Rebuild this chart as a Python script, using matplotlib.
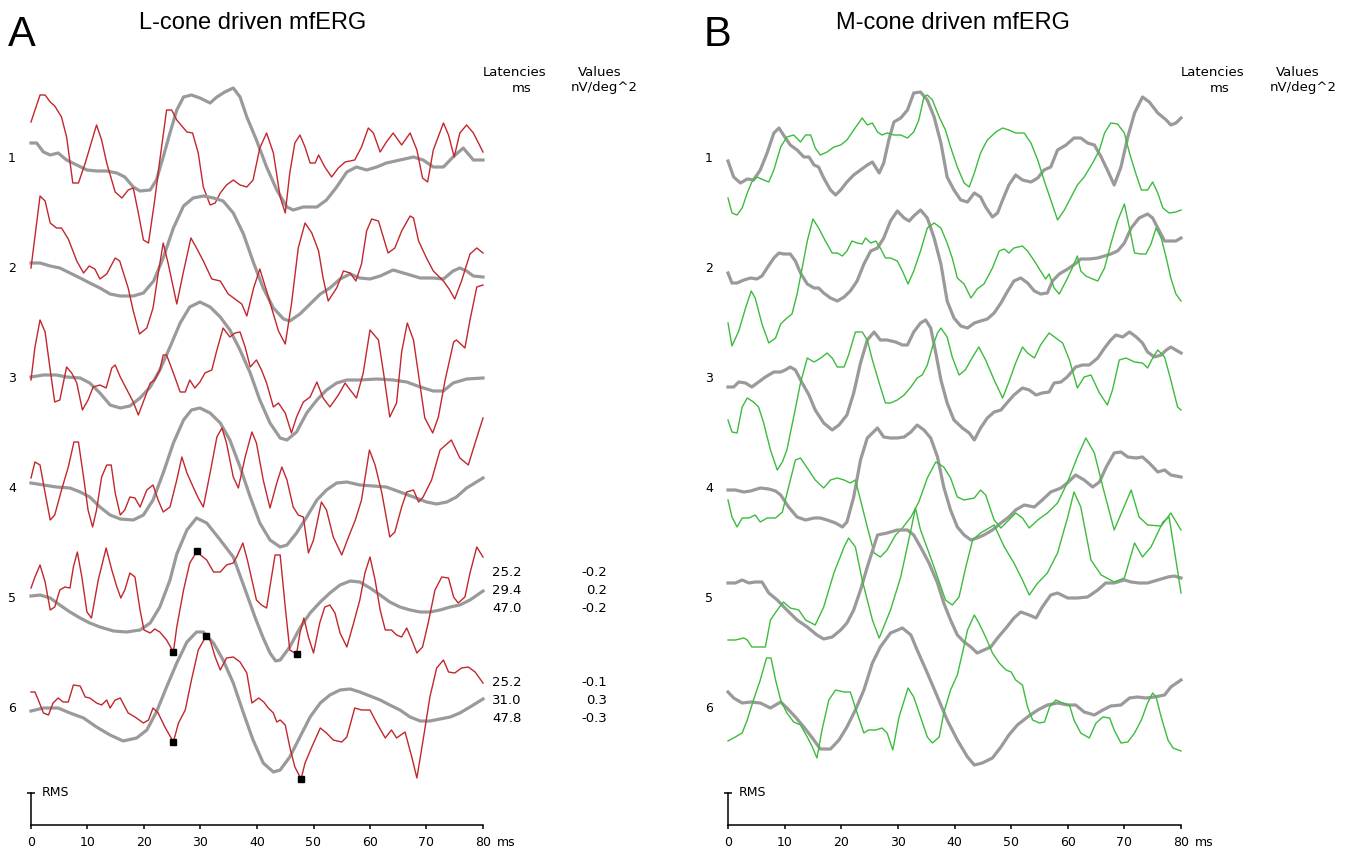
import numpy as np
import matplotlib.pyplot as plt

# mfERG traces: time in ms, amplitude in arbitrary units (one unit ~ one pixel of the original)
# ---- panel A: L-cone driven (red) with the smooth reference (gray)
a1_red_t = [0, 1.6, 2.5, 3.4, 4.2, 5.4, 6.3, 7.4, 8.4, 9.6, 11.6, 12.5, 13.4, 14.9, 16.1, 17.2, 18.1, 19.0, 19.9, 20.8,
            21.9, 22.8, 24.0, 24.9, 25.8, 26.7, 27.6, 28.6, 29.6, 30.5, 31.7, 32.6, 33.5, 34.6, 35.8, 37.0, 38.2, 39.3, 40.5, 41.7,
            42.9, 44.1, 45.0, 45.8, 46.7, 47.6, 48.5, 49.4, 50.3, 50.9, 52.0, 53.2, 54.4, 55.6, 57.3, 58.5, 59.7, 60.6, 61.8, 62.9,
            64.1, 65.6, 67.1, 68.3, 69.3, 70.2, 71.2, 73.0, 73.9, 74.9, 75.9, 77.1, 78.3, 80]
a1_red_v = [36, 63, 63, 56, 52, 41, 21, -25, -25, -5, 33, 18, -5, -34, -40, -32, -30, -55, -82, -85,
            -42, -2, 48, 48, 38, 32, 26, 25, 5, -29, -47, -45, -35, -27, -22, -27, -29, -22, 10, 25,
            5, -39, -55, -15, 15, 23, 11, -5, -5, 3, -9, -19, -10, -4, -2, 11, 30, 25, 6, 16,
            25, 13, 25, 8, -20, -24, 8, 35, 23, 1, 25, 33, 25, 6]
a1_gray_t = [0, 1.0, 2.2, 3.4, 4.8, 6.3, 8.1, 9.9, 11.6, 13.4, 15.2, 16.6, 18.1, 19.3, 21.1, 22.2, 23.4, 24.6, 25.8, 27.0,
             28.4, 29.9, 31.7, 32.9, 34.3, 35.8, 37.0, 38.2, 39.9, 41.7, 43.5, 45.3, 46.4, 48.2, 50.6, 52.3, 54.1, 55.9, 57.6, 59.4,
             61.2, 62.9, 65.3, 67.7, 69.4, 71.2, 73.0, 74.7, 76.5, 78.3, 80]
a1_gray_v = [15, 15, 6, 3, 5, -2, -7, -12, -13, -13, -15, -19, -29, -33, -32, -22, 1, 25, 48, 61,
             63, 60, 55, 61, 66, 70, 61, 41, 18, -9, -32, -49, -52, -49, -49, -42, -29, -14, -9, -12,
             -9, -5, -2, 1, -2, -9, -9, 1, 10, -2, -2]

a2_red_t = [0, 1.6, 2.5, 3.4, 4.5, 5.4, 6.6, 8.1, 9.3, 10.3, 11.3, 12.2, 13.4, 14.9, 15.7, 17.2, 18.1, 19.2, 20.5, 21.6,
            22.5, 23.4, 24.3, 25.8, 26.9, 28.3, 29.3, 30.5, 32.0, 33.5, 34.9, 36.1, 37.3, 38.2, 39.4, 40.5, 41.7, 42.9, 43.8, 45.0,
            46.1, 47.3, 48.5, 49.7, 50.9, 51.7, 52.6, 54.1, 55.3, 56.5, 57.5, 58.5, 59.4, 60.3, 61.5, 63.2, 64.4, 65.6, 67.1, 67.7,
            68.6, 70.0, 71.2, 73.0, 74.0, 75.0, 76.2, 77.7, 78.9, 80]
a2_red_v = [0, 72, 67, 45, 40, 40, 29, 7, -5, 2, -1, -11, -6, 10, 7, -20, -43, -66, -60, -40,
            -6, 25, 4, -36, -6, 30, 20, 7, -11, -13, -26, -31, -36, -48, -20, -1, -23, -46, -63, -76,
            -36, 20, 45, 35, 17, -10, -33, -20, -3, -5, -13, 4, 37, 49, 47, 15, 20, 37, 52, 50,
            27, 10, -3, -13, -21, -31, -13, 14, 20, 15]
a2_gray_t = [0, 1.6, 3.4, 5.1, 6.9, 8.7, 10.4, 12.2, 14.0, 15.8, 18.1, 19.9, 21.7, 23.4, 25.2, 27.0, 28.7, 30.5, 32.3, 34.0,
             35.8, 37.6, 39.4, 41.1, 42.9, 44.7, 45.8, 47.6, 49.4, 51.2, 52.9, 54.7, 56.5, 58.2, 60.0, 61.8, 64.1, 66.5, 68.9, 71.2,
             73.0, 74.7, 75.9, 77.1, 78.3, 80]
a2_gray_v = [5, 5, 2, 0, -5, -10, -15, -20, -26, -28, -28, -25, -13, 10, 40, 62, 70, 72, 70, 67,
             55, 34, 5, -20, -40, -51, -53, -46, -36, -26, -20, -11, -6, -10, -11, -8, -2, -6, -10, -10,
             -11, -3, 0, -3, -8, -9]

a3_red_t = [0, 0.7, 1.6, 2.5, 3.4, 4.2, 5.1, 6.3, 7.2, 8.1, 9.1, 10.1, 11.0, 12.2, 13.3, 14.3, 14.9, 15.8, 17.0, 18.1,
            19.0, 20.2, 21.1, 21.9, 22.8, 23.4, 24.0, 25.2, 26.4, 27.3, 28.1, 29.0, 29.9, 30.8, 32.0, 32.9, 34.0, 35.2, 36.1, 37.0,
            37.9, 38.8, 39.9, 40.8, 41.7, 42.9, 43.8, 45.0, 46.1, 47.0, 48.2, 49.4, 50.6, 51.7, 52.9, 54.4, 55.6, 56.5, 57.6, 58.8,
            60.0, 61.5, 62.4, 63.5, 64.7, 65.6, 66.6, 67.7, 68.8, 69.7, 71.1, 72.1, 73.3, 74.8, 75.3, 76.8, 77.7, 78.9, 80]
a3_red_v = [-2, 31, 58, 46, 8, -24, -22, 11, 5, -5, -32, -22, -9, -7, -10, 10, 13, 1, -12, -24,
            -37, -19, -5, -2, 8, 23, 23, 5, -14, -14, -2, -10, -4, 5, 8, 28, 50, 41, 45, 46,
            31, 11, 18, 8, -5, -29, -25, -35, -55, -39, -24, -19, -4, -20, -29, -17, -5, -12, -20, 5,
            48, 38, 5, -39, -25, 26, 55, 38, -5, -40, -55, -39, -2, 36, 38, 30, 58, 91, 93]
a3_gray_t = [0, 2.2, 4.5, 6.3, 8.7, 10.4, 12.2, 14.0, 15.8, 17.5, 19.3, 21.1, 22.8, 24.6, 26.4, 28.1, 29.9, 31.7, 33.5, 35.2,
             37.0, 38.8, 40.5, 42.3, 44.1, 45.3, 47.0, 48.8, 50.6, 52.3, 54.1, 55.9, 58.2, 61.2, 64.1, 66.5, 68.9, 71.2, 73.0, 74.7,
             77.1, 80]
a3_gray_v = [1, 3, 3, 1, 0, -5, -15, -27, -30, -28, -20, -9, 8, 31, 55, 71, 76, 71, 61, 48,
             28, 5, -22, -45, -60, -62, -54, -35, -22, -12, -5, -2, -2, -1, -2, -4, -9, -13, -13, -5,
             -1, 0]

a4_red_t = [0, 0.7, 1.6, 2.5, 3.4, 4.2, 5.4, 6.6, 7.6, 8.4, 9.3, 10.1, 10.9, 11.6, 12.5, 13.4, 14.2, 14.9, 15.8, 16.6,
            17.5, 18.4, 19.3, 20.5, 21.6, 22.5, 23.4, 24.6, 25.8, 26.7, 27.6, 28.7, 29.6, 30.5, 31.7, 32.9, 33.8, 34.6, 35.8, 36.7,
            37.9, 39.1, 39.9, 41.1, 42.3, 43.5, 44.4, 45.3, 46.4, 47.3, 48.2, 49.1, 50.0, 51.4, 52.3, 53.5, 55.0, 56.2, 57.4, 58.5,
            59.9, 60.9, 62.1, 63.5, 64.4, 65.6, 66.5, 67.7, 68.6, 69.4, 70.9, 72.4, 74.4, 75.9, 77.4, 78.6, 80]
a4_red_v = [10, 26, 23, -5, -32, -27, -2, 21, 46, 46, 11, -22, -39, -22, 11, 23, 23, -5, -27, -22,
            -9, -10, -19, -2, 3, -12, -24, -19, 8, 31, 15, 1, -10, -19, 15, 51, 60, 45, 11, 0,
            31, 56, 45, 8, -20, 5, 21, 8, -19, -27, -29, -65, -52, -14, -22, -49, -67, -49, -32, -12,
            38, 23, -5, -49, -44, -19, -4, -2, -14, -9, 8, 38, 48, 30, 23, 45, 70]
a4_gray_t = [0, 2.2, 4.5, 6.9, 8.7, 10.4, 12.2, 14.0, 15.8, 18.1, 19.9, 21.6, 23.4, 25.2, 27.0, 28.4, 29.9, 31.7, 33.5, 35.2,
             37.0, 38.8, 40.5, 42.3, 44.1, 45.3, 47.0, 48.8, 50.6, 52.3, 54.1, 55.9, 58.2, 60.6, 62.9, 65.3, 67.7, 70.0, 71.8, 73.6,
             75.3, 77.1, 80]
a4_gray_v = [5, 3, 1, 0, -4, -9, -19, -27, -31, -32, -27, -12, 15, 45, 68, 78, 80, 75, 65, 48,
             21, -9, -35, -52, -59, -57, -45, -29, -12, -2, 5, 6, 3, 2, 1, -4, -9, -14, -16, -14,
             -9, 0, 10]

a5_red_t = [0, 0.7, 1.6, 2.5, 3.4, 4.2, 5.1, 6.0, 6.9, 7.5, 8.2, 9.0, 9.9, 10.7, 11.9, 13.3, 14.3, 15.2, 15.9, 16.6,
            17.5, 18.4, 19.3, 20.0, 21.1, 21.9, 22.8, 24.0, 25.2, 25.8, 27.0, 28.1, 29.4, 30.0, 31.1, 32.3, 33.5, 34.6, 35.8, 36.4,
            37.5, 38.3, 39.1, 39.9, 40.8, 41.7, 42.4, 43.2, 44.1, 45.0, 45.8, 47.0, 47.6, 48.3, 49.1, 50.0, 51.1, 52.0, 52.9, 53.8,
            54.7, 55.9, 57.1, 58.2, 59.1, 60.0, 60.9, 61.8, 62.7, 63.8, 64.7, 65.6, 66.5, 67.4, 68.3, 69.3, 70.3, 71.5, 72.7, 73.9,
            74.8, 75.6, 76.8, 77.7, 78.9, 80]
a5_red_v = [10, 21, 33, 16, -12, -9, 8, 11, 10, 31, 46, 21, -14, -20, 18, 50, 28, 11, 0, 8,
            25, 21, -12, -32, -35, -31, -34, -42, -54, -29, 8, 35, 47, 43, 38, 26, 26, 33, 35, 41,
            55, 38, 18, -2, -7, -10, 15, 43, 43, -9, -52, -56, -35, -20, -39, -55, -25, -9, -7, -15,
            -35, -49, -25, -2, 25, 41, 18, -12, -32, -32, -37, -39, -30, -42, -55, -49, -25, 8, 21, 20,
            1, -5, 1, 25, 51, 41]
a5_gray_t = [0, 1.6, 3.4, 5.1, 6.9, 8.7, 10.4, 12.2, 14.6, 16.9, 19.3, 21.1, 22.8, 24.6, 25.8, 27.6, 29.3, 31.1, 33.5, 35.8,
             37.8, 39.7, 41.1, 42.3, 43.3, 44.1, 45.8, 47.6, 49.4, 51.2, 52.9, 54.7, 56.5, 58.2, 60.0, 61.8, 63.5, 65.3, 67.1, 68.9,
             70.6, 72.4, 74.2, 75.9, 77.7, 80]
a5_gray_v = [2, 3, 0, -7, -14, -20, -25, -29, -33, -34, -32, -25, -9, 18, 44, 68, 80, 75, 58, 41,
             10, -20, -40, -55, -63, -62, -49, -30, -15, -4, 5, 13, 17, 16, 10, 3, -4, -9, -12, -14,
             -14, -12, -9, -7, -2, 7]

a6_red_t = [0, 0.7, 1.3, 2.2, 3.1, 3.9, 4.8, 5.7, 6.6, 7.5, 8.7, 9.6, 10.4, 11.6, 12.5, 13.4, 14.0, 14.9, 15.8, 17.2,
            18.4, 19.9, 20.8, 21.6, 22.5, 23.7, 25.2, 26.1, 27.3, 28.4, 29.6, 31.0, 31.7, 32.6, 33.5, 34.6, 35.8, 37.0, 38.2, 39.1,
            40.3, 41.2, 42.0, 42.9, 43.5, 44.1, 45.0, 45.8, 46.7, 47.8, 48.5, 49.7, 51.2, 52.3, 53.5, 55.0, 55.9, 57.3, 58.5, 60.0,
            61.2, 62.7, 63.8, 64.7, 66.2, 67.4, 68.3, 69.4, 70.6, 71.8, 73.0, 73.9, 75.0, 76.2, 77.4, 78.6, 80]
a6_red_v = [16, 16, 8, -5, -7, 5, 10, 6, 6, 23, 22, 11, 10, 5, 3, 8, 0, 8, 10, -5,
            -9, -15, -12, 0, -5, -19, -34, -15, -2, 28, 58, 72, 68, 51, 38, 50, 51, 46, 35, 5,
            10, 6, 0, -5, -14, -12, -17, -39, -59, -71, -55, -39, -20, -25, -32, -34, -29, 0, -2, -2,
            -15, -30, -22, -30, -24, -49, -70, -32, 11, 40, 48, 36, 35, 40, 41, 36, 25]
a6_gray_t = [0, 2.2, 4.8, 6.9, 9.3, 11.6, 14.0, 16.3, 18.7, 20.5, 22.2, 24.0, 25.8, 27.6, 29.3, 30.5, 32.3, 34.0, 35.8, 37.6,
             39.3, 41.1, 42.9, 44.1, 45.8, 47.6, 49.4, 51.2, 52.9, 54.7, 56.5, 58.2, 60.0, 61.8, 63.5, 65.3, 67.1, 68.9, 70.6, 72.4,
             74.2, 75.9, 77.7, 80]
a6_gray_v = [-3, 0, 0, -5, -10, -19, -27, -33, -30, -22, -4, 21, 45, 66, 76, 76, 65, 48, 25, -5,
             -32, -55, -64, -62, -49, -29, -9, 5, 13, 18, 19, 16, 12, 8, 3, -2, -9, -13, -13, -11,
             -9, -5, 1, 9]

# peak latencies (ms) and amplitudes (nV/deg^2) for rings 5 and 6 of panel A
a5_lat = [25.2, 29.4, 47.0]
a5_val = [-0.2, 0.2, -0.2]
a6_lat = [25.2, 31.0, 47.8]
a6_val = [-0.1, 0.3, -0.3]

# ---- panel B: M-cone driven (green) with the smooth reference (gray)
b1_green_t = [0, 0.7, 1.6, 2.5, 3.4, 4.2, 5.1, 6.3, 7.2, 8.1, 9.3, 10.4, 11.6, 12.8, 13.7, 14.6, 15.4, 16.3, 17.5, 18.7,
              19.9, 21.0, 22.2, 23.7, 24.6, 25.5, 26.4, 27.2, 28.1, 29.3, 30.5, 31.7, 32.8, 33.7, 34.6, 35.2, 36.1, 37.3, 38.4, 39.3,
              40.5, 41.7, 42.6, 43.5, 44.6, 45.8, 47.3, 48.5, 49.6, 50.8, 52.3, 53.5, 54.7, 55.8, 57.0, 58.2, 59.4, 60.6, 61.7, 62.9,
              64.4, 65.6, 66.5, 67.6, 68.8, 70.0, 70.9, 72.1, 73.0, 74.1, 75.0, 75.9, 76.8, 77.9, 79.1, 80]
b1_green_v = [-40, -55, -57, -50, -35, -24, -19, -22, -24, -12, 11, 21, 23, 16, 23, 23, 10, 3, 6, 11,
              13, 18, 28, 40, 33, 35, 26, 23, 25, 23, 23, 20, 26, 38, 61, 63, 58, 41, 28, 11,
              -9, -25, -29, -15, 5, 18, 26, 30, 28, 25, 25, 15, -2, -22, -42, -62, -52, -39, -27, -19,
              -5, 8, 25, 35, 34, 25, 5, -17, -32, -32, -24, -35, -50, -55, -54, -52]
b1_gray_t = [0, 1.0, 2.2, 3.4, 4.5, 5.7, 6.9, 8.1, 9.0, 9.8, 11.0, 12.2, 13.4, 14.3, 15.2, 16.0, 16.9, 18.1, 19.0, 19.9,
             21.0, 22.2, 23.4, 24.6, 25.5, 26.7, 27.5, 28.4, 29.3, 30.5, 31.7, 32.8, 34.0, 35.2, 36.4, 37.6, 38.7, 39.9, 41.1, 42.3,
             43.5, 44.6, 45.5, 46.7, 47.6, 48.5, 49.6, 50.8, 52.0, 53.5, 54.7, 55.8, 57.0, 58.2, 59.7, 61.1, 62.3, 63.5, 64.7, 65.9,
             67.0, 68.2, 69.4, 70.6, 71.8, 73.2, 74.4, 75.9, 77.4, 78.2, 79.1, 80]
b1_gray_v = [-3, -19, -25, -21, -22, -12, 5, 25, 30, 23, 13, 8, 1, 1, -7, -9, -20, -32, -37, -32,
             -24, -17, -12, -7, -4, -15, -5, 18, 36, 40, 48, 65, 66, 58, 41, 15, -19, -32, -42, -44,
             -35, -39, -49, -59, -55, -42, -27, -17, -22, -24, -20, -12, -9, 8, 13, 20, 20, 15, 13, 1,
             -12, -27, -9, 21, 45, 61, 56, 45, 38, 33, 35, 40]

b2_green_t = [0, 0.7, 1.9, 3.1, 4.1, 4.8, 6.0, 7.2, 8.4, 9.3, 10.4, 11.3, 12.2, 13.1, 14.0, 15.0, 16.0, 17.2, 18.4, 19.3,
              20.2, 21.0, 21.9, 22.8, 23.7, 24.3, 25.2, 26.1, 27.0, 27.8, 28.7, 29.9, 30.8, 31.8, 32.8, 34.0, 35.2, 36.4, 37.6, 38.7,
              39.6, 40.5, 41.7, 42.9, 44.0, 45.2, 46.7, 47.9, 48.8, 49.6, 50.5, 52.0, 52.9, 54.1, 55.2, 56.1, 56.7, 57.6, 58.5, 59.7,
              60.8, 61.7, 62.3, 63.2, 64.4, 65.3, 66.5, 67.6, 68.8, 70.0, 70.9, 71.8, 72.9, 73.8, 74.7, 75.6, 76.5, 77.4, 78.2, 79.1,
              80]
b2_green_v = [-55, -78, -63, -40, -23, -30, -56, -75, -70, -56, -50, -46, -26, 0, 27, 49, 40, 27, 15, 15,
              12, 17, 27, 25, 24, 30, 25, 27, 19, 10, 10, 7, -3, -16, -3, 17, 40, 45, 40, 25,
              10, -10, -16, -30, -21, -16, 0, 17, 19, 15, 20, 22, 17, 7, -3, -11, -6, -20, -26, -13,
              0, 12, -3, -8, -11, -13, 0, 24, 47, 64, 40, 15, 14, 14, 24, 40, 30, 10, -10, -26,
              -33]
b2_gray_t = [0, 0.7, 1.6, 2.8, 4.0, 5.1, 6.0, 6.9, 8.1, 9.0, 9.8, 11.0, 11.9, 12.8, 14.0, 15.2, 16.0, 16.9, 18.1, 19.3,
             20.5, 21.6, 22.8, 24.0, 25.2, 26.4, 27.5, 28.7, 29.9, 31.1, 32.0, 32.8, 34.0, 35.2, 36.4, 37.6, 38.7, 39.9, 41.1, 42.3,
             43.5, 44.6, 45.8, 47.0, 48.2, 49.4, 50.5, 51.7, 52.9, 54.1, 55.2, 56.4, 57.3, 58.5, 60.0, 61.5, 62.3, 63.8, 65.3, 66.5,
             67.6, 68.8, 70.0, 71.2, 72.6, 74.1, 75.0, 75.9, 77.1, 78.2, 79.1, 80]
b2_gray_v = [-5, -15, -15, -12, -10, -11, -8, 0, 10, 15, 14, 14, 7, -5, -16, -20, -20, -25, -30, -33,
             -29, -23, -13, 4, 17, 20, 30, 47, 57, 50, 47, 52, 58, 50, 30, 4, -33, -50, -58, -60,
             -55, -53, -51, -45, -35, -23, -13, -10, -15, -23, -26, -25, -13, -6, -1, 5, 9, 9, 10, 12,
             14, 17, 25, 40, 50, 54, 50, 40, 27, 27, 27, 30]

b3_green_t = [0, 0.7, 1.6, 2.5, 3.4, 4.5, 5.4, 6.3, 7.5, 8.7, 9.6, 10.4, 11.6, 12.8, 14.0, 15.2, 16.4, 17.5, 18.4, 19.3,
              20.5, 21.3, 22.5, 23.7, 24.6, 25.5, 26.7, 27.8, 28.7, 29.9, 31.1, 32.3, 33.4, 34.3, 35.2, 36.1, 37.0, 37.6, 38.7, 39.6,
              40.8, 41.9, 43.2, 44.3, 45.5, 47.0, 48.5, 49.6, 50.8, 52.0, 52.9, 54.1, 55.2, 56.7, 57.9, 59.1, 60.3, 61.7, 62.9, 64.1,
              65.6, 67.0, 67.9, 69.1, 70.3, 71.8, 73.2, 74.1, 75.0, 75.9, 77.1, 78.2, 79.4, 80]
b3_green_v = [-42, -54, -55, -29, -20, -24, -29, -45, -72, -92, -84, -72, -39, -5, 20, 16, 20, 25, 20, 11,
              11, 23, 46, 46, 38, 18, -5, -25, -25, -22, -17, -9, 0, 3, 13, 31, 45, 50, 41, 21,
              3, 8, 21, 31, 18, -2, -20, -4, 15, 31, 25, 20, 33, 45, 40, 35, 18, -10, 1, 3,
              -15, -27, -12, 18, 20, 16, 15, 10, 20, 28, 21, -2, -29, -32]
b3_gray_t = [0, 1.0, 1.9, 3.1, 4.2, 5.4, 6.6, 8.1, 9.3, 10.1, 11.0, 11.9, 13.1, 14.3, 15.4, 16.9, 18.4, 19.6, 21.0, 22.2,
             23.4, 24.6, 25.8, 26.9, 28.1, 29.6, 30.8, 31.7, 32.8, 34.0, 34.9, 35.8, 36.7, 37.6, 38.7, 39.9, 41.4, 42.6, 43.5, 44.6,
             45.8, 47.0, 48.2, 49.4, 50.5, 52.0, 53.2, 54.4, 55.5, 56.7, 57.6, 58.8, 59.9, 61.4, 62.6, 63.8, 65.3, 66.5, 67.6, 68.5,
             69.7, 70.9, 72.1, 73.2, 74.1, 75.3, 76.5, 77.4, 78.2, 79.1, 80]
b3_gray_v = [-9, -9, -4, -5, -9, -4, 1, 6, 6, 8, 11, 8, -5, -17, -32, -45, -52, -47, -37, -15,
             15, 38, 46, 38, 38, 36, 33, 33, 46, 55, 58, 50, 25, -2, -25, -42, -50, -55, -62, -50,
             -40, -34, -32, -24, -17, -10, -12, -17, -15, -14, -5, -4, 1, 11, 13, 13, 20, 30, 38, 43,
             41, 46, 41, 35, 26, 21, 23, 28, 31, 28, 25]

b4_green_t = [0, 0.7, 1.6, 2.5, 3.7, 4.8, 5.7, 6.9, 8.4, 9.6, 10.7, 11.9, 12.8, 14.0, 15.4, 16.9, 18.1, 19.3, 20.5, 21.6,
              22.5, 23.4, 24.6, 25.8, 26.9, 28.1, 29.6, 30.8, 32.3, 33.7, 35.2, 36.7, 38.1, 39.3, 40.5, 41.7, 43.5, 44.6, 45.5, 47.0,
              48.2, 49.6, 50.8, 52.0, 53.2, 54.7, 56.4, 58.2, 59.9, 61.7, 63.2, 64.7, 66.2, 68.2, 69.7, 71.2, 72.6, 74.1, 76.5, 78.2,
              80]
b4_green_v = [-12, -29, -39, -30, -30, -27, -34, -30, -30, -24, 1, 28, 30, 20, 8, 0, 8, 10, 8, 5,
              8, -12, -39, -65, -69, -62, -47, -40, -29, -14, 10, 26, 21, 10, -9, -12, -10, -2, -7, -32,
              -40, -32, -25, -30, -40, -32, -25, -15, 5, 31, 50, 35, 1, -42, -22, -2, -29, -37, -38, -25,
              -42]
b4_gray_t = [0, 1.3, 2.8, 4.0, 5.7, 7.2, 8.4, 9.3, 10.7, 12.2, 13.7, 15.2, 16.3, 17.5, 19.0, 20.2, 21.0, 22.2, 23.4, 24.6,
             26.4, 27.5, 28.7, 29.9, 31.1, 32.3, 33.4, 34.6, 35.8, 37.0, 38.1, 39.3, 40.5, 41.7, 42.9, 44.0, 45.2, 46.7, 48.2, 49.6,
             50.8, 52.3, 54.1, 55.5, 57.0, 58.8, 59.9, 61.4, 62.9, 64.4, 65.6, 66.8, 68.2, 69.4, 70.6, 72.1, 73.2, 74.4, 75.9, 77.1,
             78.2, 80]
b4_gray_v = [-2, -2, -4, -3, 0, -1, -3, -7, -19, -29, -32, -30, -30, -32, -35, -39, -34, -9, 28, 50,
             60, 51, 50, 50, 51, 56, 63, 58, 50, 31, 1, -22, -39, -47, -52, -50, -47, -42, -35, -29,
             -22, -17, -19, -12, -4, 0, 5, 13, 8, 1, 6, 21, 35, 36, 31, 30, 31, 25, 16, 18,
             13, 11]

b5_green_t = [0, 1.3, 2.8, 3.4, 4.2, 5.7, 6.6, 7.5, 8.7, 9.8, 11.0, 12.5, 13.7, 15.4, 16.9, 18.7, 20.5, 21.3, 22.5, 23.7,
              25.5, 26.7, 28.7, 30.5, 32.3, 33.1, 34.0, 35.5, 37.0, 38.4, 39.6, 40.8, 42.0, 43.2, 44.6, 47.0, 48.8, 50.5, 52.0, 53.2,
              54.7, 56.4, 58.2, 60.0, 61.1, 62.3, 64.1, 65.9, 68.2, 70.0, 71.8, 73.2, 74.7, 76.8, 77.9, 79.1, 80]
b5_green_v = [-42, -42, -40, -42, -49, -49, -49, -22, -12, -4, -10, -12, -22, -27, -9, 25, 51, 60, 51, 18,
              -22, -40, -12, 21, 68, 90, 68, 45, 21, -2, -7, 1, 31, 58, 65, 73, 51, 35, 18, 3,
              15, 25, 45, 81, 106, 91, 38, 23, 16, 20, 55, 41, 51, 76, 81, 38, 5]
b5_gray_t = [0, 1.3, 2.5, 3.7, 4.8, 6.0, 7.2, 8.7, 10.4, 12.2, 14.0, 15.7, 16.9, 18.4, 19.9, 21.0, 22.2, 23.4, 24.6, 26.4,
             28.1, 29.9, 31.7, 32.8, 34.0, 35.5, 37.0, 38.1, 39.3, 40.5, 41.7, 42.9, 44.0, 45.2, 46.4, 47.6, 49.1, 50.5, 51.7, 53.2,
             54.4, 55.5, 57.0, 58.2, 60.0, 61.7, 63.5, 65.3, 66.7, 68.2, 70.0, 71.2, 72.6, 74.1, 75.9, 77.7, 78.8, 80]
b5_gray_v = [15, 15, 18, 15, 16, 16, 5, -2, -12, -22, -29, -37, -41, -39, -32, -25, -12, 8, 31, 63,
             65, 68, 68, 63, 51, 35, 15, -5, -22, -37, -44, -49, -55, -52, -49, -40, -30, -20, -14, -17,
             -20, -9, 3, 5, 0, 0, 1, 8, 15, 15, 18, 16, 15, 15, 18, 21, 22, 20]

b6_green_t = [0, 1.3, 2.5, 3.4, 4.5, 5.7, 6.8, 7.6, 8.4, 9.3, 10.4, 11.6, 12.8, 14.0, 14.9, 15.7, 16.6, 17.8, 19.0, 20.5,
              21.6, 22.8, 24.0, 24.8, 26.1, 27.2, 28.1, 29.1, 30.2, 31.8, 32.8, 34.0, 35.2, 36.1, 37.3, 38.1, 39.3, 40.5, 41.4, 42.3,
              43.5, 44.3, 45.5, 46.7, 47.9, 49.1, 50.0, 50.8, 52.0, 52.9, 53.8, 55.0, 55.9, 56.8, 57.9, 59.1, 60.3, 61.1, 62.3, 63.8,
              65.0, 66.2, 67.4, 68.2, 69.4, 70.6, 71.8, 73.0, 74.1, 75.0, 75.6, 76.5, 77.7, 78.6, 80]
b6_green_v = [-33, -29, -25, -12, 8, 28, 50, 50, 28, 8, -5, -14, -17, -29, -39, -50, -22, 8, 18, 16,
              16, -5, -25, -22, -22, -20, -25, -42, -9, 20, 11, -9, -29, -35, -29, -5, 18, 33, 55, 78,
              93, 85, 71, 55, 45, 38, 36, 28, 23, 1, -12, -15, -14, 1, 8, 5, 3, -12, -25, -30,
              -15, -9, -10, -22, -35, -34, -25, -12, 5, 15, 11, -9, -32, -40, -43]
b6_gray_t = [0, 1.0, 2.5, 4.0, 5.7, 7.5, 9.3, 10.4, 11.9, 13.4, 14.9, 16.3, 18.1, 19.6, 21.0, 22.5, 24.0, 25.5, 26.9, 28.7,
             30.8, 32.3, 33.4, 35.2, 37.0, 38.7, 40.5, 42.3, 43.5, 44.9, 46.7, 48.2, 49.6, 51.1, 52.9, 54.7, 56.4, 58.2, 60.0, 61.4,
             62.9, 64.7, 66.2, 67.6, 69.4, 70.9, 72.3, 73.8, 75.3, 77.1, 78.2, 80]
b6_gray_v = [16, 10, 5, 6, 5, 0, 6, 0, -9, -19, -30, -41, -41, -32, -19, -2, 18, 45, 61, 75,
             80, 73, 58, 35, 11, -12, -32, -49, -57, -55, -50, -39, -27, -17, -9, -2, 3, 5, 3, 3,
             -4, -7, -2, 2, 3, 10, 11, 10, 11, 13, 21, 28]

RED = '#c1272d'
GREEN = '#3dbb3d'
GRAY = '#9a9a9a'
W, H = 1354, 850

rows_a = [(a1_gray_t, a1_gray_v, a1_red_t, a1_red_v), (a2_gray_t, a2_gray_v, a2_red_t, a2_red_v),
          (a3_gray_t, a3_gray_v, a3_red_t, a3_red_v), (a4_gray_t, a4_gray_v, a4_red_t, a4_red_v),
          (a5_gray_t, a5_gray_v, a5_red_t, a5_red_v), (a6_gray_t, a6_gray_v, a6_red_t, a6_red_v)]
rows_b = [(b1_gray_t, b1_gray_v, b1_green_t, b1_green_v), (b2_gray_t, b2_gray_v, b2_green_t, b2_green_v),
          (b3_gray_t, b3_gray_v, b3_green_t, b3_green_v), (b4_gray_t, b4_gray_v, b4_green_t, b4_green_v),
          (b5_gray_t, b5_gray_v, b5_green_t, b5_green_v), (b6_gray_t, b6_gray_v, b6_green_t, b6_green_v)]


def baseline(i):
    # vertical offset of ring i (rings stacked top to bottom)
    return 667 - 110 * i


def draw_panel(ax, rows, color):
    for i, (gt, gv, ct, cv) in enumerate(rows):
        base = baseline(i)
        ax.plot(gt, np.array(gv) + base, color=GRAY, lw=2.3, solid_joinstyle='round', clip_on=False)
        ax.plot(ct, np.array(cv) + base, color=color, lw=1.0, clip_on=False)
        ax.annotate(str(i + 1), xy=(0, base), xytext=(-23, 0), textcoords='offset pixels',
                    ha='left', va='center', fontsize=9)

    ax.set_xlim(0, 80)
    ax.set_ylim(0, 745)
    ax.spines['top'].set_visible(False)
    ax.spines['right'].set_visible(False)
    ax.spines['left'].set_bounds(0, 32)
    ax.spines['left'].set_linewidth(1.1)
    ax.spines['bottom'].set_linewidth(1.1)
    ax.set_yticks([32])
    ax.set_yticklabels([''])
    ax.tick_params(axis='y', direction='inout', length=6, width=1.1)
    ax.set_xticks(range(0, 81, 10))
    ax.tick_params(axis='x', direction='out', length=3, width=1.1, labelsize=9, pad=5)
    ax.text(1.9, 32, 'RMS', fontsize=9, ha='left', va='center')
    ax.annotate('ms', xy=(80, 0), xytext=(14, -11), textcoords='offset pixels',
                ha='left', va='top', fontsize=9)
    ax.patch.set_alpha(0)

    # column headers
    ax.text(80.0, 753, 'Latencies', fontsize=9.5, ha='left', va='center')
    ax.text(85.1, 737, 'ms', fontsize=9.5, ha='left', va='center')
    ax.text(96.8, 753, 'Values', fontsize=9.5, ha='left', va='center')
    ax.text(95.6, 737, 'nV/deg^2', fontsize=9.5, ha='left', va='center')


fig = plt.figure(figsize=(W / 100, H / 100), dpi=100)
axA = fig.add_axes([31 / W, 25 / H, 452 / W, 745 / H])
axB = fig.add_axes([728 / W, 25 / H, 453 / W, 745 / H])

draw_panel(axA, rows_a, RED)
draw_panel(axB, rows_b, GREEN)

# markers and latency/amplitude table for rings 5 and 6
for i, lat, val in [(4, a5_lat, a5_val), (5, a6_lat, a6_val)]:
    base = baseline(i)
    red_t, red_v = rows_a[i][2], rows_a[i][3]
    axA.plot(lat, np.interp(lat, red_t, red_v) + base, 's', color='black', ms=4, clip_on=False, zorder=5)
    for k, (l, v) in enumerate(zip(lat, val)):
        y = base + 26 - 18.5 * k
        axA.text(81.6, y, f'{l:.1f}', fontsize=9.5, ha='left', va='center')
        axA.text(102.0, y, f'{v:.1f}', fontsize=9.5, ha='right', va='center')

fig.text(8 / W, 1 - 46 / H, 'A', fontsize=30, family='Liberation Sans', va='baseline', ha='left')
fig.text(253 / W, 1 - 29 / H, 'L-cone driven mfERG', fontsize=17, family='Liberation Sans', va='baseline', ha='center')
fig.text(704 / W, 1 - 46 / H, 'B', fontsize=30, family='Liberation Sans', va='baseline', ha='left')
fig.text(953 / W, 1 - 29 / H, 'M-cone driven mfERG', fontsize=17, family='Liberation Sans', va='baseline', ha='center')

fig.savefig('out.png', dpi=100)
